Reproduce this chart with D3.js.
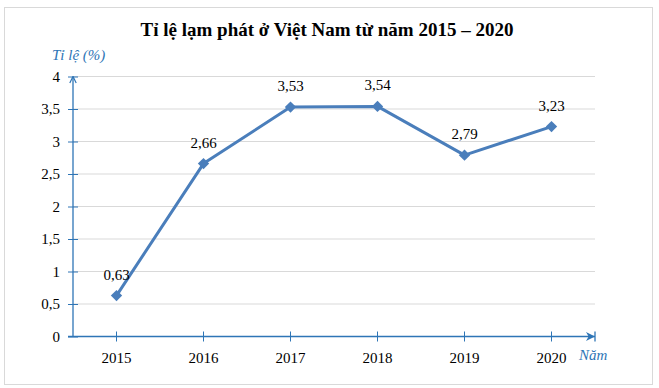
<!DOCTYPE html>
<html>
<head>
<meta charset="utf-8">
<script src="https://cdn.jsdelivr.net/npm/d3@7"></script>
<style>
  body { margin: 0; background: #fff; }
  text { font-family: "Liberation Serif", "Times New Roman", serif; }
</style>
</head>
<body>
<div id="chart"></div>
<script>
// data
var years = ["2015", "2016", "2017", "2018", "2019", "2020"];
var rates = [0.63, 2.66, 3.53, 3.54, 2.79, 3.23];
var yTicks = [0, 0.5, 1, 1.5, 2, 2.5, 3, 3.5, 4];

var W = 659, H = 388;
var margin = {top: 76.5, right: 64, bottom: 51.5, left: 73};
var width = W - margin.left - margin.right,
    height = H - margin.top - margin.bottom;

var axisBlue = "#2E75B6", lineBlue = "#4A7EBB";

var svg = d3.select("#chart").append("svg")
  .attr("width", W).attr("height", H);

// frame
svg.append("rect")
  .attr("x", 4.5).attr("y", 7.5).attr("width", 648).attr("height", 377)
  .attr("fill", "none").attr("stroke", "#d9d9d9");

svg.append("text")
  .attr("x", 327).attr("y", 36)
  .attr("text-anchor", "middle")
  .style("font-size", "19px").style("font-weight", "bold")
  .text("Tỉ lệ lạm phát ở Việt Nam từ năm 2015 – 2020");

var g = svg.append("g")
  .attr("transform", "translate(" + margin.left + "," + margin.top + ")");

var x = d3.scaleBand().domain(years).range([0, width]);
var y = d3.scaleLinear().domain([0, 4]).range([height, 0]);

// gridlines
g.selectAll(".grid").data(yTicks.slice(1)).enter().append("line")
  .attr("x1", 0).attr("x2", width)
  .attr("y1", d => y(d)).attr("y2", d => y(d))
  .attr("stroke", "#d9d9d9").attr("stroke-width", 1);

// y axis
var yAxis = g.append("g")
  .call(d3.axisLeft(y).tickValues(yTicks).tickSize(5)
    .tickFormat(d => d3.format("")(d).replace(".", ",")));
yAxis.attr("font-family", null);
yAxis.select(".domain").remove();
yAxis.selectAll(".tick line").attr("stroke", axisBlue).attr("x2", 5).attr("x1", -5);
yAxis.selectAll(".tick text").attr("x", -13).attr("fill", "#000").style("font-size", "15px");

// x axis
var xAxis = g.append("g")
  .attr("transform", "translate(0," + height + ")")
  .call(d3.axisBottom(x).tickSize(0));
xAxis.attr("font-family", null);
xAxis.select(".domain").remove();
xAxis.selectAll(".tick line").remove();
xAxis.selectAll(".tick").append("line")
  .attr("y1", -5).attr("y2", 5).attr("stroke", axisBlue);
xAxis.selectAll(".tick text").attr("y", 16).attr("fill", "#000").style("font-size", "15px");

// axis lines with arrows
var defs = svg.append("defs");
defs.append("marker").attr("id", "arr")
  .attr("viewBox", "0 0 10 10").attr("refX", 10).attr("refY", 5)
  .attr("markerWidth", 7).attr("markerHeight", 7).attr("orient", "auto")
  .append("path").attr("d", "M0,0 L10,5 L0,10 L3,5 Z").attr("fill", axisBlue);
defs.append("marker").attr("id", "open")
  .attr("viewBox", "0 0 10 10").attr("refX", 9).attr("refY", 5)
  .attr("markerWidth", 8).attr("markerHeight", 8).attr("orient", "auto")
  .attr("markerUnits", "userSpaceOnUse")
  .append("path").attr("d", "M1,1 L9,5 L1,9").attr("fill", "none")
  .attr("stroke", axisBlue).attr("stroke-width", 1.5);

g.append("line")
  .attr("x1", 0).attr("x2", 0).attr("y1", height).attr("y2", y(4))
  .attr("stroke", axisBlue).attr("stroke-width", 1.3).attr("marker-end", "url(#open)");
g.append("line")
  .attr("x1", -5).attr("x2", width).attr("y1", height).attr("y2", height)
  .attr("stroke", axisBlue).attr("stroke-width", 1.3).attr("marker-end", "url(#arr)");
g.append("line")
  .attr("x1", width).attr("x2", width).attr("y1", height - 5).attr("y2", height + 5)
  .attr("stroke", axisBlue).attr("stroke-width", 1.3);

// axis titles
svg.append("text").attr("x", 52).attr("y", 60)
  .attr("fill", axisBlue).style("font-style", "italic").style("font-size", "15px")
  .text("Tỉ lệ (%)");
svg.append("text").attr("x", 579).attr("y", 360)
  .attr("fill", axisBlue).style("font-style", "italic").style("font-size", "15px")
  .text("Năm");

// line
var cx = d => x(d) + x.bandwidth() / 2;
g.append("path").datum(rates)
  .attr("fill", "none").attr("stroke", lineBlue).attr("stroke-width", 3)
  .attr("stroke-linejoin", "round")
  .attr("d", d3.line().x((d, i) => cx(years[i])).y(d => y(d)));

g.selectAll(".pt").data(rates).enter().append("path")
  .attr("transform", (d, i) => "translate(" + cx(years[i]) + "," + y(d) + ") rotate(45)")
  .attr("d", d3.symbol().type(d3.symbolSquare).size(64))
  .attr("fill", lineBlue);

g.selectAll(".lbl").data(rates).enter().append("text")
  .attr("x", (d, i) => cx(years[i])).attr("y", d => y(d) - 16)
  .attr("text-anchor", "middle").style("font-size", "15px")
  .text(d => d3.format(".2f")(d).replace(".", ","));
</script>
</body>
</html>
